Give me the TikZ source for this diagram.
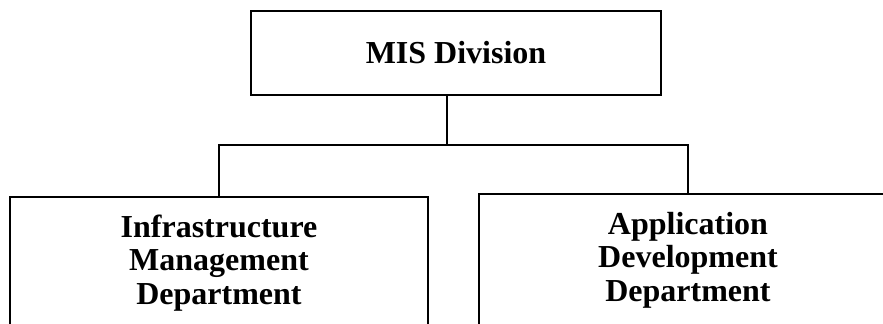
\documentclass[tikz,border=0pt]{standalone}
\usepackage{fontspec}
\setmainfont{Liberation Serif}
\begin{document}
\begin{tikzpicture}[x=0.75pt,y=-0.75pt,
  box/.style={draw=black,line width=2.2pt,rectangle,inner sep=0pt,align=center,
    font=\fontsize{24}{25}\selectfont\bfseries},
  link/.style={draw=black,line width=2.2pt}]
\useasboundingbox (0,0) rectangle (883,324);
\clip (0,0) rectangle (883,324);
\node[box,minimum width=307.5pt,minimum height=63pt] (top) at (456,53) {MIS Division};
\node[box,minimum width=313.5pt,minimum height=99pt] (left) at (219,263) {Infrastructure\\Management\\Department};
\node[box,minimum width=313.5pt,minimum height=99pt] (right) at (688,260) {Application\\Development\\Department};
\coordinate (j) at (447,145);
\draw[link] (top.south -| j) -- (j);
\draw[link] (left.north) -- (left.north |- j) -- (right.north |- j) -- (right.north);
\end{tikzpicture}
\end{document}
